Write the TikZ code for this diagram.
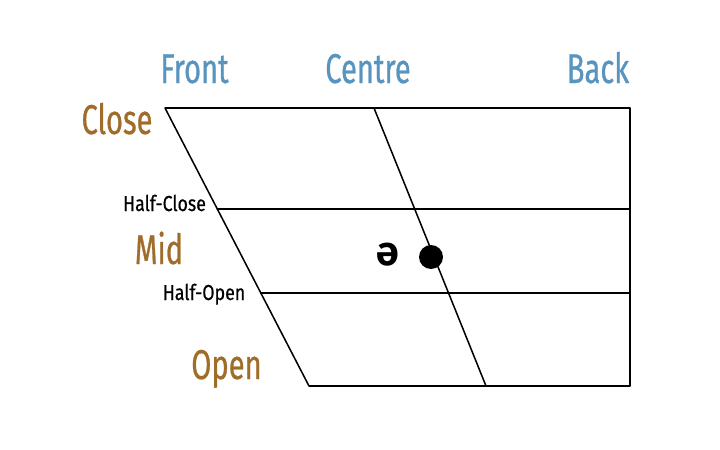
\documentclass[tikz,border=0pt]{standalone}
\usepackage{fontspec}
\setmainfont{Fira Sans}[FakeStretch=0.7, FakeBold=0.6]
\newfontfamily\labelfont{Fira Sans}[FakeStretch=0.82, FakeBold=0.5]
\newfontfamily\ipafont{Fira Sans}
\usetikzlibrary{calc}
\definecolor{axisblue}{RGB}{88,148,190}
\definecolor{heightbrown}{RGB}{160,108,42}
\tikzset{
	chartline/.style={line width=1.3pt, line cap=round, line join=round},
	placelabel/.style={anchor=base, inner sep=0pt, text=axisblue, font=\fontsize{35.5}{40}\selectfont},
	heightlabel/.style={anchor=base, inner sep=0pt, text=heightbrown, font=\fontsize{35.5}{40}\selectfont},
	sublabel/.style={anchor=base, inner sep=0pt, text=black, font=\labelfont\fontsize{18.5}{22}\selectfont}
}

\begin{document}
\begin{tikzpicture}[x=0.03cm, y=-0.03cm]
			%%%%% START %%%%%
			\useasboundingbox (0, 0) rectangle (720, 450);
			
			\coordinate (tl) at (165, 108);
			\coordinate (tr) at (630, 108);
			\coordinate (br) at (630, 386);
			\coordinate (bl) at (309, 386);
			\coordinate (tc) at (374, 108);
			\coordinate (bc) at (486, 386);
			
			\coordinate (hc) at ($(tl)!0.3633!(bl)$);
			\coordinate (ho) at ($(tl)!0.6655!(bl)$);
			
			\draw[chartline] (tl) -- (tr) -- (br) -- (bl) -- cycle;
			\draw[chartline] (tc) -- (bc);
			\draw[chartline] (hc) -- (hc -| tr);
			\draw[chartline] (ho) -- (ho -| tr);
			
			\node[placelabel] (front) at (194.5, 83) {Front};
			\node[placelabel] (centre) at (368, 83) {Centre};
			\node[placelabel] (back) at (598, 83) {Back};
			
			\node[heightlabel] (close) at (117, 134) {Close};
			\node[heightlabel] (mid) at (159, 264) {Mid};
			\node[heightlabel] (open) at (226.5, 379) {Open};
			
			\node[sublabel] (halfclose) at (164.5, 211) {Half-Close};
			\node[sublabel] (halfopen) at (204, 300) {Half-Open};
			
			\fill[black] (431, 257) circle (12);
			\node[inner sep=0pt, font=\ipafont\bfseries\fontsize{35}{40}\selectfont] (schwa) at (388, 255) {ə};
			
			%%%%% END %%%%%
\end{tikzpicture}
\end{document}
